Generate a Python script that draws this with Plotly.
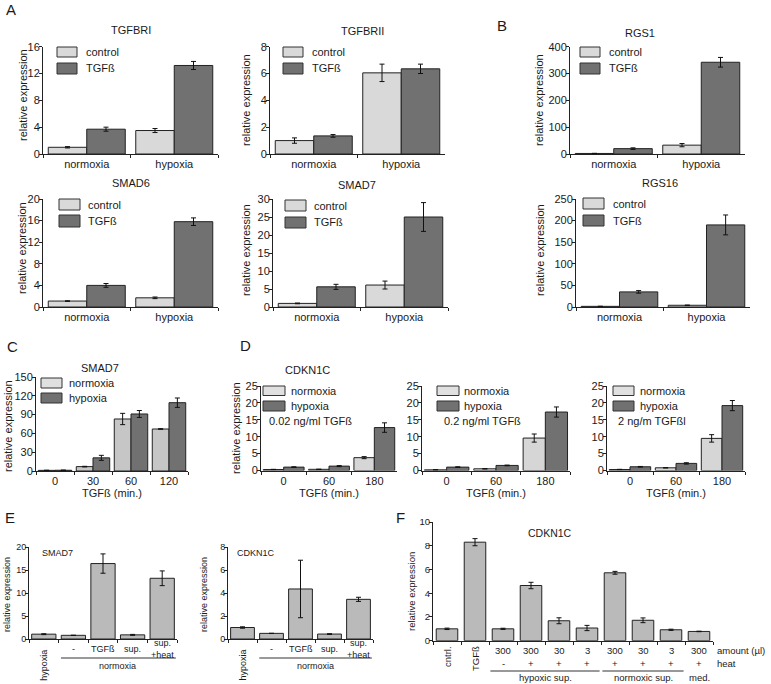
import plotly.graph_objects as go

W, H = 771, 684
FONT = "Liberation Sans, Arial, Helvetica, sans-serif"
TXT = "#1a1a1a"
LINE = "#222222"

# ---------------- data ----------------
AB_groups = ["normoxia", "hypoxia"]
AB_series = ["control", "TGFß"]

TGFBRI_control = [1.0, 3.5]
TGFBRI_control_err = [0.1, 0.3]
TGFBRI_tgfb = [3.7, 13.2]
TGFBRI_tgfb_err = [0.3, 0.6]

TGFBRII_control = [1.0, 6.05]
TGFBRII_control_err = [0.2, 0.65]
TGFBRII_tgfb = [1.35, 6.35]
TGFBRII_tgfb_err = [0.1, 0.35]

RGS1_control = [2.0, 33.0]
RGS1_control_err = [0.5, 6.0]
RGS1_tgfb = [20.0, 342.0]
RGS1_tgfb_err = [3.0, 18.0]

SMAD6_control = [1.1, 1.7]
SMAD6_control_err = [0.05, 0.15]
SMAD6_tgfb = [4.0, 15.8]
SMAD6_tgfb_err = [0.35, 0.7]

SMAD7_control = [1.0, 6.1]
SMAD7_control_err = [0.1, 1.1]
SMAD7_tgfb = [5.6, 25.0]
SMAD7_tgfb_err = [0.7, 4.0]

RGS16_control = [1.5, 4.0]
RGS16_control_err = [0.3, 0.5]
RGS16_tgfb = [35.0, 190.0]
RGS16_tgfb_err = [3.0, 23.0]

CD_series = ["normoxia", "hypoxia"]
C_times = ["0", "30", "60", "120"]
C_normoxia = [1.0, 7.0, 83.0, 67.0]
C_normoxia_err = [0.3, 0.5, 9.0, 0.5]
C_hypoxia = [1.2, 21.0, 91.0, 109.0]
C_hypoxia_err = [0.3, 4.0, 5.5, 7.5]

D_times = ["0", "60", "180"]
D_doses = ["0.02 ng/ml TGFß", "0.2 ng/ml TGFß", "2 ng/m TGFßl"]
D1_normoxia = [0.3, 0.35, 3.8]
D1_normoxia_err = [0.05, 0.05, 0.3]
D1_hypoxia = [1.0, 1.3, 12.7]
D1_hypoxia_err = [0.1, 0.15, 1.4]
D2_normoxia = [0.2, 0.5, 9.6]
D2_normoxia_err = [0.05, 0.05, 1.2]
D2_hypoxia = [1.0, 1.5, 17.3]
D2_hypoxia_err = [0.1, 0.1, 1.5]
D3_normoxia = [0.3, 0.8, 9.5]
D3_normoxia_err = [0.05, 0.05, 1.1]
D3_hypoxia = [1.1, 2.1, 19.2]
D3_hypoxia_err = [0.1, 0.2, 1.5]

E_conditions = ["hypoxia", "-", "TGFß", "sup.", "sup. +heat"]
E_labels = ["hypoxia", "-", "TGFß", "sup.", "sup.<br>+heat"]
E_SMAD7 = [1.05, 0.8, 16.4, 0.9, 13.2]
E_SMAD7_err = [0.1, 0.0, 2.1, 0.1, 1.6]
E_CDKN1C = [1.0, 0.49, 4.35, 0.43, 3.45]
E_CDKN1C_err = [0.06, 0.0, 2.5, 0.03, 0.18]

F_conditions = ["cntrl.", "TGFß", "hyp 300 -", "hyp 300 +", "hyp 30 +", "hyp 3 +",
                "norm 300 +", "norm 30 +", "norm 3 +", "med 300 +"]
F_amount = ["", "", "300", "300", "30", "3", "300", "30", "3", "300"]
F_heat = ["", "", "-", "+", "+", "+", "+", "+", "+", "+"]
F_CDKN1C = [1.0, 8.3, 1.0, 4.65, 1.68, 1.07, 5.72, 1.72, 0.92, 0.78]
F_CDKN1C_err = [0.06, 0.3, 0.05, 0.27, 0.25, 0.22, 0.12, 0.2, 0.05, 0.02]

# ---------------- styling ----------------
LIGHT = "#d9d9d9"
DARK = "#717171"
C_LIGHT = "#c6c6c6"
D_LIGHT = "#d6d6d6"
MID = "#bababa"
YTITLE = "relative expression"


def px(x):
    return x / W


def py(y):
    return 1 - y / H


fig = go.Figure()
layout = {}
annotations = []
shapes = []


def axname(i):
    return ("x", "y") if i == 1 else (f"x{i}", f"y{i}")


def text(x, y, s, fs=11, xanchor="center", yanchor="middle", angle=0, xref="paper"):
    annotations.append(dict(x=px(x) if xref == "paper" else x, y=py(y), xref=xref, yref="paper",
                            text=s, showarrow=False, xanchor=xanchor, yanchor=yanchor,
                            textangle=angle, font=dict(size=fs, color=TXT)))


def add_panel(i, cats, series, yr, dtick, x0, x1, ytop, ybot, ytitle=None, fs=11,
              bw=0.44, xlabels=True, xtitle=None):
    xn, yn = axname(i)
    n = len(series)
    for k, (vals, errs, color) in enumerate(series):
        off = -bw * n / 2 + k * bw
        fig.add_trace(go.Bar(
            x=cats, y=vals, width=bw, offset=off,
            marker=dict(color=color, line=dict(color=LINE, width=1)),
            error_y=dict(type="data", array=errs, visible=True, color="#111111",
                         thickness=1, width=2.5),
            xaxis=xn, yaxis=yn, showlegend=False, hoverinfo="skip"))
    xkey = "xaxis" if i == 1 else f"xaxis{i}"
    ykey = "yaxis" if i == 1 else f"yaxis{i}"
    layout[xkey] = dict(
        domain=[px(x0), px(x1)], anchor=yn, type="category",
        range=[-0.5, len(cats) - 0.5], showline=True, linecolor=LINE, linewidth=1,
        ticks="outside", tickson="boundaries", ticklen=3, tickcolor=LINE,
        showgrid=False, zeroline=False, showticklabels=xlabels,
        tickfont=dict(size=fs, color=TXT), automargin=False, fixedrange=True,
        title=dict(text=xtitle or "", font=dict(size=fs, color=TXT), standoff=2))
    layout[ykey] = dict(
        domain=[py(ybot), py(ytop)], anchor=xn, range=yr, dtick=dtick, tick0=0,
        showline=True, linecolor=LINE, linewidth=1, ticks="outside", ticklen=3,
        tickcolor=LINE, showgrid=False, zeroline=False, ticklabelstandoff=-3,
        tickfont=dict(size=fs, color=TXT), automargin=False, fixedrange=True)
    if ytitle is not None:
        tx, ty = ytitle
        text(tx, ty, YTITLE, fs=fs, angle=-90)


def legend(xb0, xb1, rows, tx, labels, colors, fs=11):
    for (yt, yb), lab, col in zip(rows, labels, colors):
        shapes.append(dict(type="rect", xref="paper", yref="paper",
                           x0=px(xb0), x1=px(xb1), y0=py(yb), y1=py(yt),
                           fillcolor=col, line=dict(color="#333333", width=1)))
        annotations.append(dict(x=px(tx), y=py((yt + yb) / 2), xref="paper", yref="paper",
                                text=lab, showarrow=False, xanchor="left", yanchor="middle",
                                font=dict(size=fs, color=TXT)))


# ---------------- panel A / B ----------------
add_panel(1, AB_groups, [(TGFBRI_control, TGFBRI_control_err, LIGHT),
                         (TGFBRI_tgfb, TGFBRI_tgfb_err, DARK)],
          [0, 16], 4, 43, 218, 46.7, 154, ytitle=(23, 95))
add_panel(2, AB_groups, [(TGFBRII_control, TGFBRII_control_err, LIGHT),
                         (TGFBRII_tgfb, TGFBRII_tgfb_err, DARK)],
          [0, 8], 2, 270, 445, 46.7, 154, ytitle=(246, 100))
add_panel(3, AB_groups, [(RGS1_control, RGS1_control_err, LIGHT),
                         (RGS1_tgfb, RGS1_tgfb_err, DARK)],
          [0, 400], 100, 570, 745, 46.7, 154, ytitle=(539, 100))
add_panel(4, AB_groups, [(SMAD6_control, SMAD6_control_err, LIGHT),
                         (SMAD6_tgfb, SMAD6_tgfb_err, DARK)],
          [0, 20], 4, 43, 218, 199, 307, ytitle=(22, 248))
add_panel(5, AB_groups, [(SMAD7_control, SMAD7_control_err, LIGHT),
                         (SMAD7_tgfb, SMAD7_tgfb_err, DARK)],
          [0, 30], 5, 273, 448, 199, 307, ytitle=(246, 250))
add_panel(6, AB_groups, [(RGS16_control, RGS16_control_err, LIGHT),
                         (RGS16_tgfb, RGS16_tgfb_err, DARK)],
          [0, 250], 50, 576, 750, 199, 307, ytitle=(540, 250))

text(131, 30, "TGFBRI")
text(362, 31, "TGFBRII")
text(640, 33, "RGS1")
text(131, 183, "SMAD6")
text(357, 185, "SMAD7")
text(660, 183, "RGS16")

legend(57, 77, [(47, 57), (63, 74)], 84, AB_series, [LIGHT, DARK])
legend(283, 303, [(47, 57), (63, 74)], 310, AB_series, [LIGHT, DARK])
legend(580, 600, [(47, 57), (63, 74)], 607, AB_series, [LIGHT, DARK])
legend(59, 80, [(199, 210), (215, 227)], 86, AB_series, [LIGHT, DARK])
legend(285, 306, [(200, 211), (217, 228)], 312, AB_series, [LIGHT, DARK])
legend(583, 604, [(198, 209), (215, 226)], 611, AB_series, [LIGHT, DARK])

# ---------------- panel C ----------------
add_panel(7, C_times, [(C_normoxia, C_normoxia_err, C_LIGHT),
                       (C_hypoxia, C_hypoxia_err, DARK)],
          [0, 150], 30, 36, 188, 377, 471, ytitle=(8, 426), xtitle="TGFß (min.)")
text(100, 368, "SMAD7")
legend(41, 62, [(378, 388), (393, 403)], 67, CD_series, ["#e0e0e0", DARK])

# ---------------- panel D ----------------
D_sets = [
    (8, D1_normoxia, D1_normoxia_err, D1_hypoxia, D1_hypoxia_err, 261, 397, (236, 428), 263, 285, 289, 267),
    (9, D2_normoxia, D2_normoxia_err, D2_hypoxia, D2_hypoxia_err, 422, 570, None, 437, 459, 462, 442),
    (10, D3_normoxia, D3_normoxia_err, D3_hypoxia, D3_hypoxia_err, 607, 745, None, 613, 634, 638, 616),
]
for (i, nv, ne, hv, he, x0, x1, yt, lb0, lb1, ltx, dx), dose in zip(D_sets, D_doses):
    add_panel(i, D_times, [(nv, ne, D_LIGHT), (hv, he, DARK)],
              [0, 25], 5, x0, x1, 386, 470.5, ytitle=yt, bw=0.45, xtitle="TGFß (min.)")
    legend(lb0, lb1, [(386, 395.5), (401, 411)], ltx, CD_series, ["#e0e0e0", DARK])
    text(dx, 421, dose, xanchor="left")
text(307, 370, "CDKN1C")

# ---------------- panel E ----------------
EFS = 9
add_panel(11, E_conditions, [(E_SMAD7, E_SMAD7_err, MID)], [0, 20], 5, 29, 177, 547, 639,
          ytitle=(7, 595), fs=EFS, bw=0.82, xlabels=False)
add_panel(12, E_conditions, [(E_CDKN1C, E_CDKN1C_err, MID)], [0, 8], 2, 228, 373, 547, 639,
          ytitle=(204, 595), fs=EFS, bw=0.82, xlabels=False)
text(40, 553, "SMAD7", fs=EFS, xanchor="left")
text(235, 553, "CDKN1C", fs=EFS, xanchor="left")
for ax in ("x11", "x12"):
    for k, lab in enumerate(E_labels):
        if k == 0:
            annotations.append(dict(x=k, y=py(665), xref=ax, yref="paper", text=lab,
                                    showarrow=False, textangle=-90, xanchor="center",
                                    yanchor="middle", font=dict(size=EFS, color=TXT)))
        else:
            annotations.append(dict(x=k, y=py(649), xref=ax, yref="paper", text=lab,
                                    showarrow=False, xanchor="center", yanchor="middle",
                                    font=dict(size=EFS, color=TXT)))
    shapes.append(dict(type="line", xref=ax, yref="paper", x0=0.58, x1=4.46,
                       y0=py(658), y1=py(658), line=dict(color="#333333", width=1)))
    annotations.append(dict(x=2.5, y=py(665.5), xref=ax, yref="paper", text="normoxia",
                            showarrow=False, xanchor="center", yanchor="middle",
                            font=dict(size=EFS, color=TXT)))

# ---------------- panel F ----------------
FFS = 9.5
add_panel(13, F_conditions, [(F_CDKN1C, F_CDKN1C_err, MID)], [0, 10], 2, 433, 713, 522, 640.7,
          ytitle=(411, 592), fs=FFS, bw=0.77, xlabels=False)
text(550, 533, "CDKN1C", fs=10.5)
for k in range(len(F_conditions)):
    if F_amount[k]:
        annotations.append(dict(x=k, y=py(650), xref="x13", yref="paper", text=F_amount[k],
                                showarrow=False, xanchor="center", yanchor="middle",
                                font=dict(size=FFS, color=TXT)))
        annotations.append(dict(x=k, y=py(663), xref="x13", yref="paper", text=F_heat[k],
                                showarrow=False, xanchor="center", yanchor="middle",
                                font=dict(size=FFS, color=TXT)))
for k, lab, yc in ((0, "cntrl.", 657), (1, "TGFß", 659)):
    annotations.append(dict(x=k, y=py(yc), xref="x13", yref="paper", text=lab,
                            showarrow=False, textangle=-90, xanchor="center", yanchor="middle",
                            font=dict(size=FFS, color=TXT)))
for (a, b), lab in (((1.55, 5.45), "hypoxic sup."), ((5.55, 8.45), "normoxic sup.")):
    shapes.append(dict(type="line", xref="x13", yref="paper", x0=a, x1=b,
                       y0=py(671), y1=py(671), line=dict(color="#333333", width=1)))
    annotations.append(dict(x=(a + b) / 2, y=py(677.5), xref="x13", yref="paper", text=lab,
                            showarrow=False, xanchor="center", yanchor="middle",
                            font=dict(size=FFS, color=TXT)))
annotations.append(dict(x=9, y=py(677.5), xref="x13", yref="paper", text="med.",
                        showarrow=False, xanchor="center", yanchor="middle",
                        font=dict(size=FFS, color=TXT)))
text(715, 650, "amount (µl)", fs=FFS, xanchor="left")
text(715, 663, "heat", fs=FFS, xanchor="left")

# ---------------- panel letters ----------------
for lab, x, y in (("A", 11, 10), ("B", 502, 25), ("C", 12, 346), ("D", 246, 345),
                  ("E", 10, 517), ("F", 400, 517)):
    text(x, y, lab, fs=15)

fig.update_layout(
    width=W, height=H, margin=dict(l=0, r=0, t=0, b=0),
    paper_bgcolor="white", plot_bgcolor="white",
    font=dict(family=FONT, size=11, color=TXT),
    barmode="group", showlegend=False,
    annotations=annotations, shapes=shapes, **layout)

fig.write_html("out.html", config={"displayModeBar": False, "staticPlot": True},
               post_script="document.body.style.margin='0px';document.body.style.overflow='hidden';")
